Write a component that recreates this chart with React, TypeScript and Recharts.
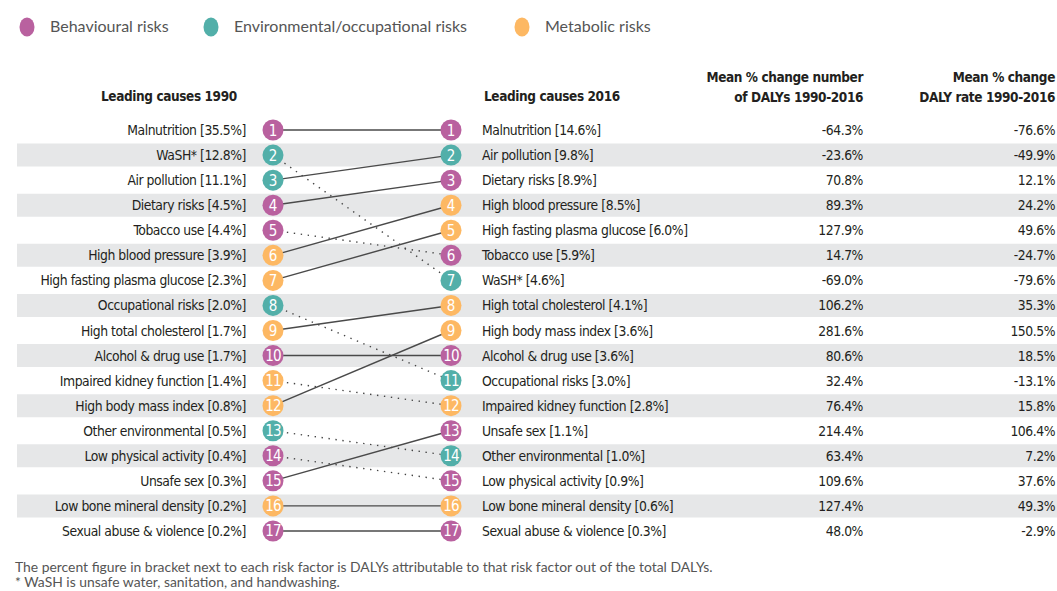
import React from 'react';
import { ScatterChart, Scatter, XAxis, YAxis, ReferenceArea } from 'recharts';

// ---------- DATA ----------
const CATEGORY_KEYS = ['B', 'E', 'M'];
const CATEGORY_NAMES = ['Behavioural risks', 'Environmental/occupational risks', 'Metabolic risks'];
const CATEGORY_COLORS = ['#B9619F', '#52AFA9', '#FDB863'];

const CAUSES_1990 = [
  'Malnutrition [35.5%]',
  'WaSH* [12.8%]',
  'Air pollution [11.1%]',
  'Dietary risks [4.5%]',
  'Tobacco use  [4.4%]',
  'High blood pressure [3.9%]',
  'High fasting plasma glucose [2.3%]',
  'Occupational risks [2.0%]',
  'High total cholesterol [1.7%]',
  'Alcohol & drug use [1.7%]',
  'Impaired kidney function [1.4%]',
  'High body mass index [0.8%]',
  'Other environmental [0.5%]',
  'Low physical activity [0.4%]',
  'Unsafe sex [0.3%]',
  'Low bone mineral density [0.2%]',
  'Sexual abuse & violence [0.2%]',
];
const CATS_1990 = ['B', 'E', 'E', 'B', 'B', 'M', 'M', 'E', 'M', 'B', 'M', 'M', 'E', 'B', 'B', 'M', 'B'];
const RANK_2016_OF_1990 = [1, 7, 2, 3, 6, 4, 5, 11, 8, 10, 12, 9, 14, 15, 13, 16, 17];

const CAUSES_2016 = [
  'Malnutrition [14.6%]',
  'Air pollution [9.8%]',
  'Dietary risks [8.9%]',
  'High blood pressure [8.5%]',
  'High fasting plasma glucose [6.0%]',
  'Tobacco use [5.9%]',
  'WaSH* [4.6%]',
  'High total cholesterol [4.1%]',
  'High body mass index [3.6%]',
  'Alcohol & drug use [3.6%]',
  'Occupational risks [3.0%]',
  'Impaired kidney function [2.8%]',
  'Unsafe sex [1.1%]',
  'Other environmental [1.0%]',
  'Low physical activity [0.9%]',
  'Low bone mineral density [0.6%]',
  'Sexual abuse & violence [0.3%]',
];
const CATS_2016 = ['B', 'E', 'B', 'M', 'M', 'B', 'E', 'M', 'M', 'B', 'E', 'M', 'B', 'E', 'B', 'M', 'B'];
const CHANGE_NUMBER = ['-64.3%', '-23.6%', '70.8%', '89.3%', '127.9%', '14.7%', '-69.0%', '106.2%', '281.6%', '80.6%', '32.4%', '76.4%', '214.4%', '63.4%', '109.6%', '127.4%', '48.0%'];
const CHANGE_RATE = ['-76.6%', '-49.9%', '12.1%', '24.2%', '49.6%', '-24.7%', '-79.6%', '35.3%', '150.5%', '18.5%', '-13.1%', '15.8%', '106.4%', '7.2%', '37.6%', '49.3%', '-2.9%'];

const HEADER_1990 = 'Leading causes 1990';
const HEADER_2016 = 'Leading causes 2016';
const HEADER_NUMBER = ['Mean % change number', 'of DALYs 1990-2016'];
const HEADER_RATE = ['Mean % change', 'DALY rate 1990-2016'];
const FOOTNOTES = [
  'The percent figure in bracket next to each risk factor is DALYs attributable to that risk factor out of the total DALYs.',
  '* WaSH is unsafe water, sanitation, and handwashing.',
];

// ---------- LAYOUT ----------
const W = 1057;
const H = 591;
const X_DOMAIN: [number, number] = [-1.4382, 4.4045];
const X_1990 = 0;
const X_2016 = 1;
const X_COL_NUMBER = 3.3146;
const X_COL_RATE = 4.3933;

const NARROW = '"Liberation Sans Narrow", "DejaVu Sans Condensed", "Arial Narrow", sans-serif';
const TEXT_COLOR = '#231F20';
const LABEL_SIZE = 13.8;
const LABEL_SPACING = -0.45;
const colorOf = (k: string) => CATEGORY_COLORS[CATEGORY_KEYS.indexOf(k)];

const leftData = CAUSES_1990.map((name, i) => ({ x: X_1990, y: i + 1, name, cat: CATS_1990[i], rank: i + 1 }));
const rightData = CAUSES_2016.map((name, i) => ({ x: X_2016, y: i + 1, name, cat: CATS_2016[i], rank: i + 1 }));
const numberData = CHANGE_NUMBER.map((v, i) => ({ x: X_COL_NUMBER, y: i + 1, v }));
const rateData = CHANGE_RATE.map((v, i) => ({ x: X_COL_RATE, y: i + 1, v }));
const links = RANK_2016_OF_1990.map((r, i) => ({
  worse: r > i + 1,
  data: [{ x: X_1990, y: i + 1 }, { x: X_2016, y: r }],
}));

const labelProps = { fill: TEXT_COLOR, fontFamily: NARROW, fontSize: LABEL_SIZE, letterSpacing: LABEL_SPACING } as any;

const Bubble = ({ cx, cy, color, n }: any) => (
  <g>
    <circle cx={cx} cy={cy} r={10.5} fill={color} />
    <text x={cx} y={cy + 5.5} textAnchor="middle" fill="#fff" fontFamily={NARROW} fontSize={15} letterSpacing={n > 9 ? -0.8 : 0}>{n}</text>
  </g>
);

const LeftShape = (p: any) => {
  const { cx, cy, payload } = p;
  return (
    <g>
      <text x={cx - 27} y={cy + 5} textAnchor="end" {...labelProps}>{payload.name}</text>
      <Bubble cx={cx} cy={cy} color={colorOf(payload.cat)} n={payload.rank} />
    </g>
  );
};
const RightShape = (p: any) => {
  const { cx, cy, payload } = p;
  return (
    <g>
      <text x={cx + 31} y={cy + 5} textAnchor="start" {...labelProps}>{payload.name}</text>
      <Bubble cx={cx} cy={cy} color={colorOf(payload.cat)} n={payload.rank} />
    </g>
  );
};
const ValueShape = (p: any) => (
  <text x={p.cx} y={p.cy + 5} textAnchor="end" {...labelProps}>{p.payload.v}</text>
);
const Nothing = () => <g />;

const headerProps = { fill: TEXT_COLOR, fontFamily: NARROW, fontWeight: 'bold', fontSize: 13.5, letterSpacing: -0.4 } as any;

export default function App() {
  return (
    <div style={{ position: 'absolute', left: 0, top: 0, width: W, height: H, background: '#fff', overflow: 'hidden' }}>
      {/* Legend, headers, footnotes */}
      <svg width={W} height={H} style={{ position: 'absolute', left: 0, top: 0 }}>
        {CATEGORY_NAMES.map((name, i) => {
          const xs = [27, 211, 522];
          return (
            <g key={name}>
              <ellipse cx={xs[i]} cy={27} rx={7.5} ry={9.5} fill={CATEGORY_COLORS[i]} />
              <text x={xs[i] + 23} y={32} fill="#555" fontFamily="Lato, sans-serif" fontSize={16}>{name}</text>
            </g>
          );
        })}
        <text x={101} y={101} {...headerProps}>{HEADER_1990}</text>
        <text x={484} y={101} {...headerProps}>{HEADER_2016}</text>
        <text x={863} y={82} textAnchor="end" {...headerProps}>{HEADER_NUMBER[0]}</text>
        <text x={863} y={102} textAnchor="end" {...headerProps}>{HEADER_NUMBER[1]}</text>
        <text x={1055} y={82} textAnchor="end" {...headerProps}>{HEADER_RATE[0]}</text>
        <text x={1055} y={102} textAnchor="end" {...headerProps}>{HEADER_RATE[1]}</text>
        <text x={15} y={572} fill="#555" fontFamily="Lato, sans-serif" fontSize={13.9}>{FOOTNOTES[0]}</text>
        <text x={15} y={587} fill="#555" fontFamily="Lato, sans-serif" fontSize={13.9}>{FOOTNOTES[1]}</text>
      </svg>
      <div style={{ position: 'absolute', left: 0, top: 0 }}>
        <ScatterChart width={W} height={H} margin={{ top: 117.5, right: 0, bottom: 47.5, left: 17 }}>
          <XAxis type="number" dataKey="x" domain={X_DOMAIN} allowDataOverflow hide />
          <YAxis type="number" dataKey="y" domain={[0.5, 17.5]} reversed allowDataOverflow hide />
          {leftData.filter((d) => d.rank % 2 === 0).map((d) => (
            <ReferenceArea
              key={'s' + d.rank}
              x1={X_DOMAIN[0]}
              x2={X_DOMAIN[1]}
              y1={d.rank - 0.46}
              y2={d.rank + 0.46}
              fill="#E6E7E8"
              fillOpacity={1}
              stroke="none"
              ifOverflow="visible"
            />
          ))}
          {links.map((l, i) => (
            <Scatter
              key={'l' + i}
              data={l.data}
              shape={Nothing}
              line={
                l.worse
                  ? { stroke: '#444', strokeWidth: 1.4, strokeDasharray: '1.4 5.6' }
                  : { stroke: '#4a4a4a', strokeWidth: 1.4 }
              }
              isAnimationActive={false}
            />
          ))}
          <Scatter data={leftData} shape={LeftShape} isAnimationActive={false} />
          <Scatter data={rightData} shape={RightShape} isAnimationActive={false} />
          <Scatter data={numberData} shape={ValueShape} isAnimationActive={false} />
          <Scatter data={rateData} shape={ValueShape} isAnimationActive={false} />
        </ScatterChart>
      </div>
    </div>
  );
}
